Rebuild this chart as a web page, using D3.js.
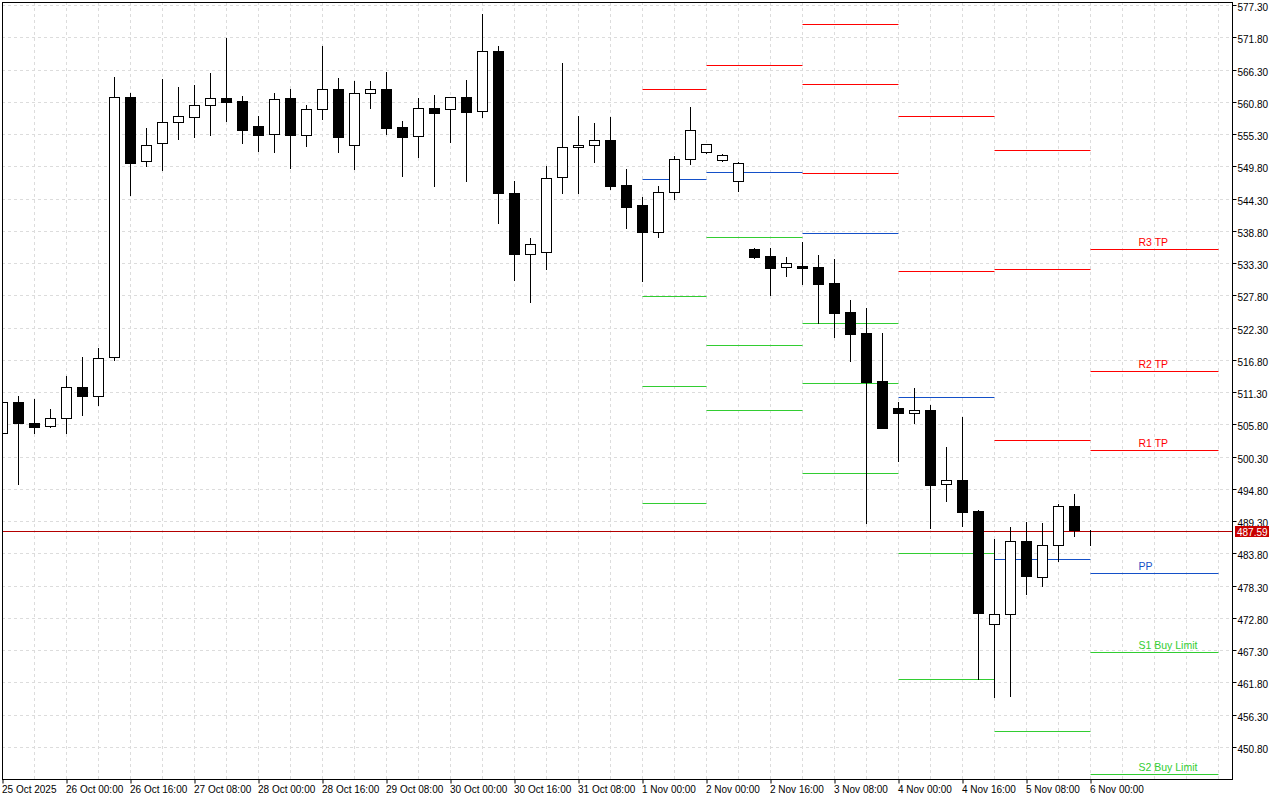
<!DOCTYPE html>
<html>
<head>
<meta charset="utf-8">
<script src="https://cdn.jsdelivr.net/npm/d3@7"></script>
<style>
  html, body { margin: 0; padding: 0; background: #ffffff; }
  svg { display: block; }
  text { font-family: Tahoma, "Liberation Sans", Arial, sans-serif; }
</style>
</head>
<body>
<svg id="chart" width="1280" height="800"></svg>
<script>
// ---- DATA (H4 candles) ----
const opens  = [504.28,509.56,505.98,505.47,506.83,512.12,510.59,517.23,561.56,550.65,553.72,557.30,558.25,560.20,561.39,560.88,556.62,555.25,561.39,555.08,
                559.52,562.93,553.38,562.24,562.93,556.45,554.91,559.69,559.52,561.56,559.18,569.41,545.19,534.79,535.14,547.92,553.04,553.38,554.23,546.56,
                543.15,538.54,545.37,550.99,552.19,550.82,547.24,535.70,534.45,532.58,532.80,532.63,529.90,524.96,521.33,513.19,508.54,507.69,508.25,495.58,
                496.31,491.03,471.71,473.42,485.86,479.83,485.18,491.83,487.62];
const highs  = [509.70,510.64,510.12,508.42,514.05,517.28,518.77,565.02,562.35,556.33,564.68,563.32,563.66,565.70,571.67,561.78,558.32,562.29,562.98,560.25,
                570.31,564.80,564.34,564.34,565.88,557.52,561.39,561.90,561.66,564.51,575.77,570.31,547.29,537.57,549.85,567.41,558.38,557.18,558.20,549.34,
                544.56,546.44,551.50,559.91,553.65,551.88,550.53,535.87,535.87,534.33,536.89,534.68,533.99,527.00,525.64,521.33,509.61,511.95,509.10,501.94,
                507.06,491.20,486.26,488.30,489.16,488.98,492.17,493.93,487.79];
const lows   = [504.10,495.58,504.28,505.40,504.28,507.45,509.15,516.77,544.91,549.85,549.22,554.50,554.84,555.18,557.57,553.82,552.46,552.29,549.56,553.31,
                557.91,552.29,549.39,559.79,555.36,548.20,551.43,546.49,553.99,547.34,558.25,540.18,530.46,526.71,532.24,545.19,545.30,550.58,545.98,539.33,
                530.24,537.80,544.28,550.24,552.10,550.75,545.64,534.22,527.86,531.10,529.73,523.08,520.75,516.66,488.93,505.10,499.61,506.08,488.18,492.78,
                488.52,462.39,459.37,459.54,476.93,478.30,482.56,486.82,485.28];
const closes = [509.56,505.98,505.40,506.83,512.12,510.59,517.06,561.56,550.41,553.38,557.30,558.32,560.20,561.39,560.81,556.04,555.08,561.32,555.08,559.52,
                562.93,554.84,562.24,562.93,556.38,554.84,559.69,558.94,561.56,559.11,569.41,545.19,534.79,536.50,547.75,553.04,553.38,554.23,546.49,542.91,
                538.65,545.37,550.99,555.94,553.55,551.78,550.31,534.39,532.51,533.26,532.51,529.78,524.84,521.26,513.02,505.23,507.69,508.20,495.51,496.26,
                490.91,473.69,473.42,485.86,480.00,485.18,491.83,487.84,487.59];

const currentPrice = 487.59;

// time-axis labels, one every 4 bars
const xLabelBars = [0,4,8,12,16,20,24,28,32,36,40,44,48,52,56,60,64,68];
const xLabels = ["25 Oct 2025","26 Oct 00:00","26 Oct 16:00","27 Oct 08:00","28 Oct 00:00","28 Oct 16:00",
                 "29 Oct 08:00","30 Oct 00:00","30 Oct 16:00","31 Oct 08:00","1 Nov 00:00","2 Nov 00:00",
                 "2 Nov 16:00","3 Nov 08:00","4 Nov 00:00","4 Nov 16:00","5 Nov 08:00","6 Nov 00:00"];

// price-axis labels
const yTicks = [577.30,571.80,566.30,560.80,555.30,549.80,544.30,538.80,533.30,527.80,522.30,516.80,
                511.30,505.80,500.30,494.80,489.30,483.80,478.30,472.80,467.30,461.80,456.30,450.80];

// daily pivot levels (segments start / end at bar index)
const pivotDays  = ["1 Nov","2 Nov","3 Nov","4 Nov","5 Nov","6 Nov"];
const pivotStart = [40,44,50,56,62,68];
const pivotEnd   = [44,50,56,62,68,76];
const r3 = [null,   null,   574.01, null,   552.58, 535.65];
const r2 = [null,   null,   563.83, 558.29, 532.24, 514.85];
const r1 = [562.93, 567.02, 548.61, 531.95, 503.09, 501.38];
const pp = [547.58, 548.78, 538.38, 510.47, 482.80, 480.41];
const s1 = [527.64, 537.70, 523.03, 483.87, 453.53, 466.95];
const s2 = [512.30, 519.28, 512.80, 462.39, null,   446.15];
const s3 = [492.40, 508.20, 497.46, null,   null,   null];
const levelNames  = ["R3 TP","R2 TP","R1 TP","PP","S1 Buy Limit","S2 Buy Limit","S3"];

// ---- LAYOUT ----
const L = 2, T = 2, R = 1232, B = 779;
const RED = "#ff0000", BLUE = "#1450c8", GREEN = "#32cd32";
const levelSets = [
  {vals: r3, color: RED,   name: levelNames[0]},
  {vals: r2, color: RED,   name: levelNames[1]},
  {vals: r1, color: RED,   name: levelNames[2]},
  {vals: pp, color: BLUE,  name: levelNames[3]},
  {vals: s1, color: GREEN, name: levelNames[4]},
  {vals: s2, color: GREEN, name: levelNames[5]},
  {vals: s3, color: GREEN, name: levelNames[6]}
];

const svg = d3.select("#chart");
const x = d3.scaleLinear().domain([0, 76.875]).range([L + 0.5, R + 0.5]);
const y = d3.scaleLinear().domain([445.34, 577.81]).range([B, T]);
const py = v => Math.round(y(v)) + 0.5;

svg.append("rect").attr("width", 1280).attr("height", 800).attr("fill", "#ffffff");

svg.append("defs").append("clipPath").attr("id", "plot")
  .append("rect").attr("x", L + 1).attr("y", T + 1).attr("width", R - L - 1).attr("height", B - T - 1);

const plot = svg.append("g").attr("clip-path", "url(#plot)");

// grid
const grid = plot.append("g").attr("stroke", "#dcdcdc").attr("stroke-width", 1).attr("stroke-dasharray", "3,3");
grid.selectAll("line.h").data(yTicks).join("line")
  .attr("x1", L).attr("x2", R).attr("y1", d => py(d)).attr("y2", d => py(d));
grid.selectAll("line.v").data(d3.range(2, 77, 2)).join("line")
  .attr("x1", d => x(d)).attr("x2", d => x(d)).attr("y1", T).attr("y2", B);

// pivot lines
const pivG = plot.append("g");
levelSets.forEach(ls => {
  pivotDays.forEach((d, k) => {
    const v = ls.vals[k];
    if (v === null) return;
    pivG.append("line")
      .attr("x1", x(pivotStart[k])).attr("x2", x(pivotEnd[k]))
      .attr("y1", py(v)).attr("y2", py(v))
      .attr("stroke", ls.color).attr("stroke-width", 1);
  });
});
// labels on the current day's levels
const last = pivotDays.length - 1;
levelSets.forEach(ls => {
  const v = ls.vals[last];
  if (v === null) return;
  pivG.append("text")
    .attr("x", x(pivotStart[last]) + 48).attr("y", py(v) - 3.5)
    .attr("font-size", 10.5).attr("fill", ls.color)
    .text(ls.name);
});

// current price line
plot.append("line")
  .attr("x1", L).attr("x2", R).attr("y1", py(currentPrice)).attr("y2", py(currentPrice))
  .attr("stroke", "#b40000").attr("stroke-width", 1);

// candles
const bars = d3.range(opens.length).map(i => ({i, o: opens[i], h: highs[i], l: lows[i], c: closes[i]}));
const cg = plot.append("g");
cg.selectAll("line.wick").data(bars).join("line")
  .attr("x1", d => x(d.i)).attr("x2", d => x(d.i))
  .attr("y1", d => Math.round(y(d.h))).attr("y2", d => Math.round(y(d.l)) + 1)
  .attr("stroke", "#000").attr("stroke-width", 1);
cg.selectAll("rect.body").data(bars).join("rect")
  .attr("x", d => x(d.i) - 5)
  .attr("y", d => Math.round(y(Math.max(d.o, d.c))) + 0.5)
  .attr("width", 10)
  .attr("height", d => Math.max(0, Math.round(y(Math.min(d.o, d.c))) - Math.round(y(Math.max(d.o, d.c)))))
  .attr("fill", d => d.c >= d.o ? "#ffffff" : "#000000")
  .attr("stroke", "#000").attr("stroke-width", 1);

// frame
svg.append("rect").attr("x", L + 0.5).attr("y", T + 0.5).attr("width", R - L).attr("height", B - T)
  .attr("fill", "none").attr("stroke", "#000").attr("stroke-width", 1);

// price axis
const yAxis = d3.axisRight(y).tickValues(yTicks).tickFormat(d3.format(".2f")).tickSize(4).tickPadding(1);
const ya = svg.append("g").attr("transform", `translate(${R + 0.5},0)`).call(yAxis);
ya.select(".domain").remove();
ya.selectAll(".tick").attr("transform", d => `translate(0,${py(d)})`);
ya.selectAll(".tick line").attr("stroke", "#000");
ya.selectAll(".tick text").attr("font-size", 10).attr("fill", "#000").attr("dy", "0.5em")
  .attr("font-family", 'Tahoma, "Liberation Sans", Arial, sans-serif');

// current price tag
const tagY = py(currentPrice);
svg.append("rect").attr("x", R + 3).attr("y", tagY - 5.5).attr("width", 34).attr("height", 11).attr("fill", "#c80000");
svg.append("text").attr("x", R + 5).attr("y", tagY + 4).attr("font-size", 10).attr("fill", "#ffffff")
  .text(d3.format(".2f")(currentPrice));

// time axis
const xAxis = d3.axisBottom(x).tickValues(xLabelBars).tickFormat((d, k) => xLabels[k]).tickSize(4).tickPadding(2);
const xa = svg.append("g").attr("transform", `translate(0,${B + 0.5})`).call(xAxis);
xa.select(".domain").remove();
xa.selectAll(".tick line").attr("stroke", "#000");
xa.selectAll(".tick text").attr("font-size", 10).attr("fill", "#000").attr("text-anchor", "start").attr("x", -1)
  .attr("font-family", 'Tahoma, "Liberation Sans", Arial, sans-serif');
</script>
</body>
</html>
